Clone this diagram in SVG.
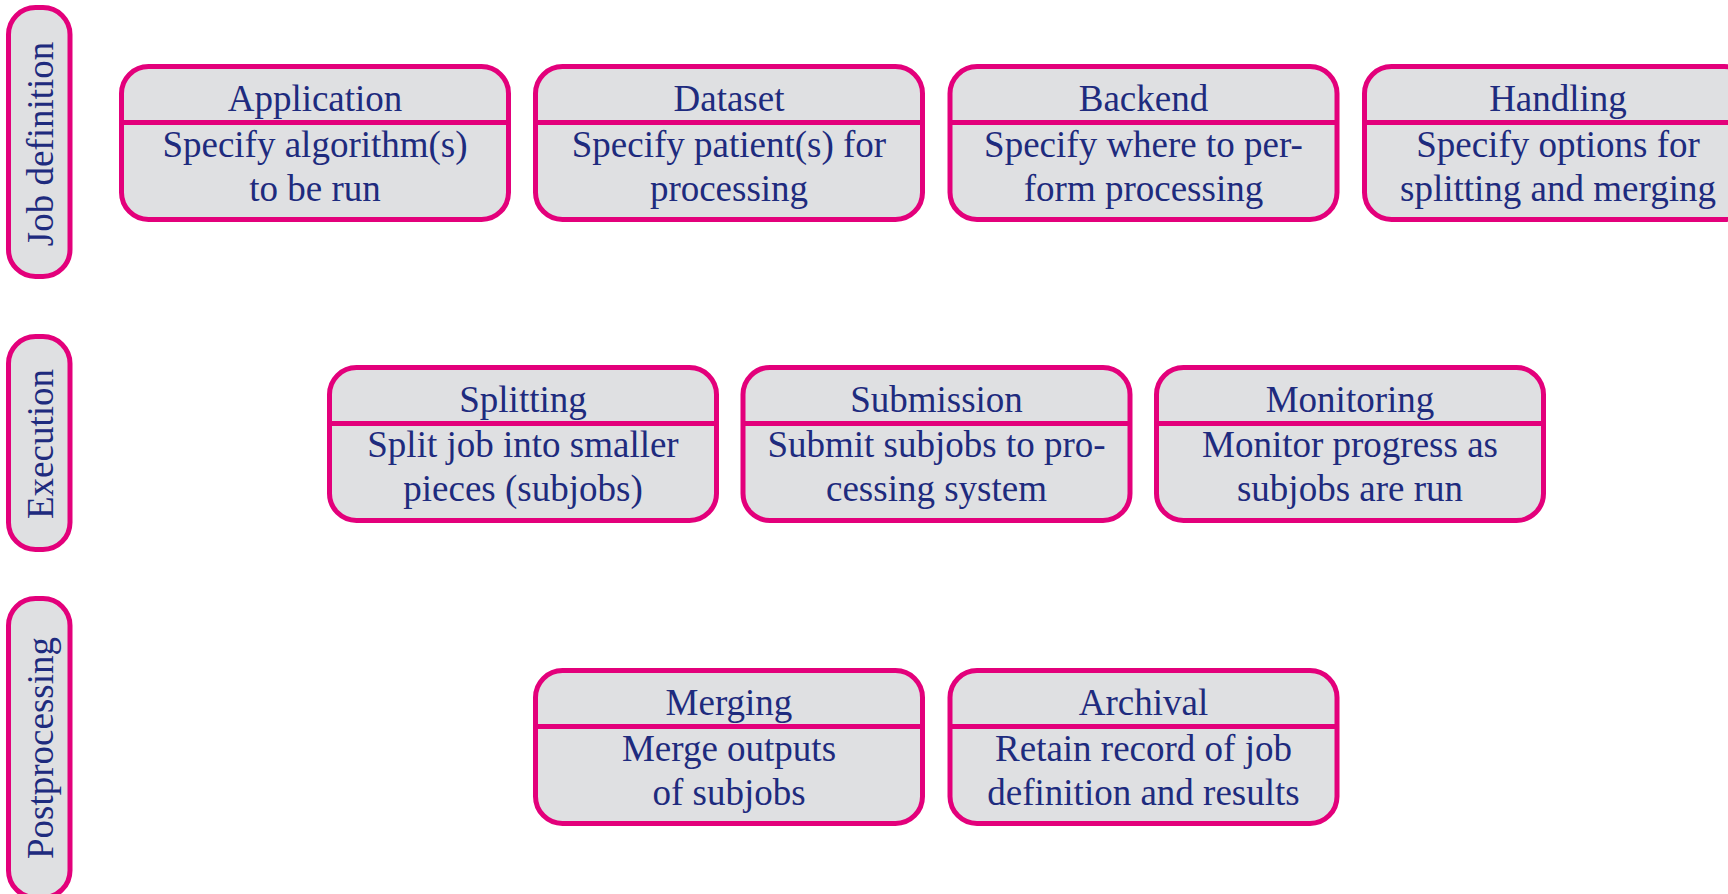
<svg xmlns="http://www.w3.org/2000/svg" width="1728" height="894" viewBox="0 0 1728 894">
  <style>
    .frame { fill: #dfe0e2; stroke: #e3007b; stroke-width: 5; }
    .rule { stroke: #e3007b; stroke-width: 5; fill: none; }
    .t { font-family: "Liberation Serif", "Times New Roman", serif; font-size: 37px; fill: #1e2b7e; text-anchor: middle; }
  </style>
  <defs>
    <!-- task card: header band above, two-line description below -->
    <g id="card">
      <rect class="frame" x="0" y="0" width="387" height="153" rx="27" ry="27"/>
      <line class="rule" x1="0" y1="56" x2="387" y2="56"/>
    </g>
  </defs>

  <!-- swim-lane labels -->
  <g id="lane-job-definition">
    <rect class="frame" x="8.5" y="7.5" width="61.5" height="269" rx="27" ry="27"/>
    <text class="t" transform="translate(53,144) rotate(-90)">Job definition</text>
  </g>
  <g id="lane-execution">
    <rect class="frame" x="8.5" y="336.5" width="61.5" height="213" rx="27" ry="27"/>
    <text class="t" transform="translate(53,444) rotate(-90)">Execution</text>
  </g>
  <g id="lane-postprocessing">
    <rect class="frame" x="8.5" y="598.5" width="61.5" height="299" rx="27" ry="27"/>
    <text class="t" transform="translate(53,748) rotate(-90)">Postprocessing</text>
  </g>

  <!-- job definition row -->
  <g id="application" transform="translate(121.5,66.5)">
    <use href="#card"/>
    <text class="t" x="193.5" y="44.5">Application</text>
    <text class="t" x="193.5" y="90">Specify algorithm(s)</text>
    <text class="t" x="193.5" y="134">to be run</text>
  </g>
  <g id="dataset" transform="translate(535.5,66.5)">
    <use href="#card"/>
    <text class="t" x="193.5" y="44.5">Dataset</text>
    <text class="t" x="193.5" y="90">Specify patient(s) for</text>
    <text class="t" x="193.5" y="134">processing</text>
  </g>
  <g id="backend" transform="translate(950,66.5)">
    <use href="#card"/>
    <text class="t" x="193.5" y="44.5">Backend</text>
    <text class="t" x="193.5" y="90">Specify where to per-</text>
    <text class="t" x="193.5" y="134">form processing</text>
  </g>
  <g id="handling" transform="translate(1364.5,66.5)">
    <use href="#card"/>
    <text class="t" x="193.5" y="44.5">Handling</text>
    <text class="t" x="193.5" y="90">Specify options for</text>
    <text class="t" x="193.5" y="134">splitting and merging</text>
  </g>

  <!-- execution row -->
  <g id="splitting" transform="translate(329.5,367.5)">
    <use href="#card"/>
    <text class="t" x="193.5" y="44.5">Splitting</text>
    <text class="t" x="193.5" y="89">Split job into smaller</text>
    <text class="t" x="193.5" y="133">pieces (subjobs)</text>
  </g>
  <g id="submission" transform="translate(743,367.5)">
    <use href="#card"/>
    <text class="t" x="193.5" y="44.5">Submission</text>
    <text class="t" x="193.5" y="89">Submit subjobs to pro-</text>
    <text class="t" x="193.5" y="133">cessing system</text>
  </g>
  <g id="monitoring" transform="translate(1156.5,367.5)">
    <use href="#card"/>
    <text class="t" x="193.5" y="44.5">Monitoring</text>
    <text class="t" x="193.5" y="89">Monitor progress as</text>
    <text class="t" x="193.5" y="133">subjobs are run</text>
  </g>

  <!-- postprocessing row -->
  <g id="merging" transform="translate(535.5,670.5)">
    <use href="#card"/>
    <text class="t" x="193.5" y="44.5">Merging</text>
    <text class="t" x="193.5" y="90">Merge outputs</text>
    <text class="t" x="193.5" y="134">of subjobs</text>
  </g>
  <g id="archival" transform="translate(950,670.5)">
    <use href="#card"/>
    <text class="t" x="193.5" y="44.5">Archival</text>
    <text class="t" x="193.5" y="90">Retain record of job</text>
    <text class="t" x="193.5" y="134">definition and results</text>
  </g>

  <g id="connectors"/>
</svg>
